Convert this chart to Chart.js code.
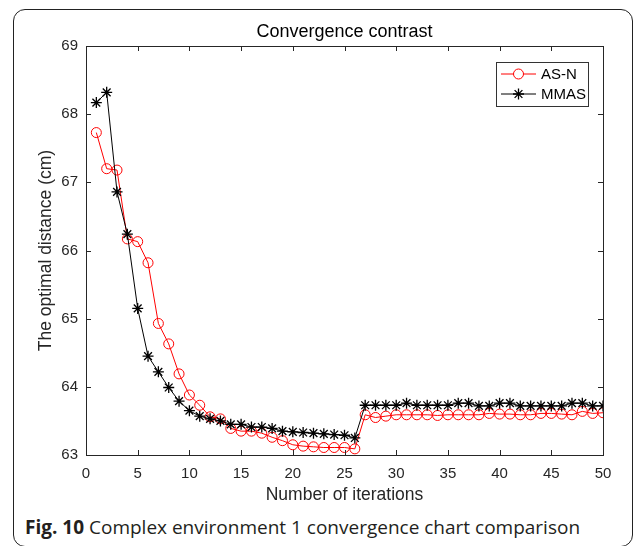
<!DOCTYPE html>
<html>
<head>
<meta charset="utf-8">
<script src="https://cdn.jsdelivr.net/npm/chart.js@4/dist/chart.umd.min.js"></script>
<style>
  html, body { margin: 0; padding: 0; background: #fff; }
  body { width: 634px; height: 546px; position: relative; overflow: hidden; }
  #frame {
    position: absolute; left: 13px; top: 9px; width: 618px; height: 536px;
    border: 1.5px solid #222; border-radius: 12px;
  }
  #chart { position: absolute; left: 0; top: 0; }
  #caption {
    position: absolute; left: 25px; top: 514px; white-space: nowrap;
    font-family: 'Open Sans', 'Noto Sans', sans-serif; font-size: 19px; color: #231f20;
  }
  #caption b { font-weight: 700; }
</style>
</head>
<body>
<div id="frame"></div>
<canvas id="chart" width="634" height="505"></canvas>
<div id="caption"><b>Fig. 10</b> Complex environment 1 convergence chart comparison</div>
<script>
  const iterations = [1, 2, 3, 4, 5, 6, 7, 8, 9, 10, 11, 12, 13, 14, 15, 16, 17, 18, 19, 20,
    21, 22, 23, 24, 25, 26, 27, 28, 29, 30, 31, 32, 33, 34, 35, 36, 37, 38, 39, 40,
    41, 42, 43, 44, 45, 46, 47, 48, 49, 50];

  const asN = [67.73, 67.20, 67.18, 66.17, 66.13, 65.82, 64.93, 64.63, 64.19, 63.88,
    63.73, 63.56, 63.53, 63.39, 63.35, 63.35, 63.32, 63.26, 63.21, 63.15,
    63.13, 63.12, 63.11, 63.11, 63.11, 63.09, 63.59, 63.55, 63.57, 63.59,
    63.59, 63.59, 63.59, 63.58, 63.59, 63.59, 63.59, 63.59, 63.61, 63.60,
    63.60, 63.59, 63.59, 63.61, 63.61, 63.60, 63.59, 63.64, 63.61, 63.62];

  const mmas = [68.17, 68.32, 66.86, 66.24, 65.15, 64.45, 64.22, 63.99, 63.79, 63.65,
    63.57, 63.53, 63.50, 63.45, 63.45, 63.41, 63.41, 63.39, 63.35, 63.34,
    63.33, 63.32, 63.31, 63.30, 63.29, 63.25, 63.73, 63.73, 63.73, 63.73,
    63.76, 63.73, 63.73, 63.73, 63.73, 63.76, 63.76, 63.72, 63.72, 63.76,
    63.76, 63.72, 63.72, 63.72, 63.72, 63.72, 63.76, 63.76, 63.72, 63.72];

  const chartTitle = 'Convergence contrast';
  const xTitle = 'Number of iterations';
  const yTitle = 'The optimal distance (cm)';

  const FONT = "'Liberation Sans', Arial, sans-serif";
  const AXIS = '#262626';

  const toPoints = vals => vals.map((v, i) => ({ x: iterations[i], y: v }));

  const asnStyle = { pointStyle: 'circle', radius: 5, borderWidth: 1, color: '#ff0000' };
  const mmasStyle = { pointStyle: 'star', radius: 5.5, borderWidth: 1.3, color: '#000000' };

  // matlab-like box, inward ticks, titles and legend
  const matlabDecor = {
    id: 'matlabDecor',
    afterDraw(chart) {
      const ctx = chart.ctx;
      const { left, right, top, bottom } = chart.chartArea;
      const xs = chart.scales.x, ys = chart.scales.y;
      ctx.save();
      ctx.strokeStyle = AXIS;
      ctx.lineWidth = 1;
      ctx.beginPath();
      xs.ticks.forEach(t => {
        const px = Math.round(xs.getPixelForValue(t.value)) + 0.5;
        ctx.moveTo(px, bottom); ctx.lineTo(px, bottom - 5);
        ctx.moveTo(px, top); ctx.lineTo(px, top + 5);
      });
      ys.ticks.forEach(t => {
        const py = Math.round(ys.getPixelForValue(t.value)) + 0.5;
        ctx.moveTo(left, py); ctx.lineTo(left + 5, py);
        ctx.moveTo(right, py); ctx.lineTo(right - 5, py);
      });
      ctx.stroke();
      ctx.strokeRect(Math.round(left) + 0.5, Math.round(top) + 0.5,
        Math.round(right - left), Math.round(bottom - top));

      // titles
      ctx.fillStyle = '#000';
      ctx.textAlign = 'center';
      ctx.textBaseline = 'middle';
      ctx.font = '18px ' + FONT;
      ctx.fillText(chartTitle, (left + right) / 2, 32);
      ctx.fillStyle = AXIS;
      ctx.font = '17.5px ' + FONT;
      ctx.fillText(xTitle, (left + right) / 2, 495);
      ctx.save();
      ctx.translate(46, (top + bottom) / 2);
      ctx.rotate(-Math.PI / 2);
      ctx.fillText(yTitle, 0, 0);
      ctx.restore();

      // legend
      const lx = 496.5, ly = 62.5, lw = 92, lh = 44;
      ctx.fillStyle = '#fff';
      ctx.fillRect(lx, ly, lw, lh);
      ctx.strokeStyle = '#333';
      ctx.strokeRect(lx, ly, lw, lh);
      const items = [
        { label: 'AS-N', style: asnStyle, y: 74 },
        { label: 'MMAS', style: mmasStyle, y: 94 }
      ];
      items.forEach(it => {
        ctx.strokeStyle = it.style.color;
        ctx.lineWidth = 1;
        ctx.beginPath();
        ctx.moveTo(501, it.y); ctx.lineTo(536, it.y);
        ctx.stroke();
        ctx.fillStyle = '#fff';
        ctx.lineWidth = it.style.borderWidth;
        Chart.helpers.drawPoint(ctx, {
          pointStyle: it.style.pointStyle, radius: it.style.radius,
          borderWidth: it.style.borderWidth, rotation: 0
        }, 518.5, it.y);
        ctx.fillStyle = '#000';
        ctx.textAlign = 'left';
        ctx.font = '15px ' + FONT;
        ctx.fillText(it.label, 541, it.y + 1);
      });
      ctx.restore();
    }
  };

  const ctx = document.getElementById('chart').getContext('2d');
  const chart = new Chart(ctx, {
    type: 'line',
    data: {
      datasets: [{
        label: 'AS-N',
        data: toPoints(asN),
        borderColor: asnStyle.color,
        borderWidth: 1,
        pointStyle: asnStyle.pointStyle,
        pointRadius: asnStyle.radius,
        pointBorderWidth: asnStyle.borderWidth,
        pointBorderColor: asnStyle.color,
        pointBackgroundColor: 'rgba(0,0,0,0)',
        order: 1
      }, {
        label: 'MMAS',
        data: toPoints(mmas),
        borderColor: mmasStyle.color,
        borderWidth: 1,
        pointStyle: mmasStyle.pointStyle,
        pointRadius: mmasStyle.radius,
        pointBorderWidth: mmasStyle.borderWidth,
        pointBorderColor: mmasStyle.color,
        pointBackgroundColor: mmasStyle.color,
        order: 0
      }]
    },
    options: {
      responsive: false,
      animation: false,
      devicePixelRatio: 1,
      layout: { padding: { left: 0, right: 31, top: 46, bottom: 0 } },
      scales: {
        x: {
          type: 'linear',
          min: 0,
          max: 50,
          grid: { display: false, drawTicks: false },
          border: { display: false },
          ticks: { stepSize: 5, padding: 10, maxRotation: 0, color: AXIS, font: { family: FONT, size: 15 } },
          afterFit: s => { s.height = 50; }
        },
        y: {
          min: 63,
          max: 69,
          grid: { display: false, drawTicks: false },
          border: { display: false },
          ticks: { stepSize: 1, padding: 8, color: AXIS, font: { family: FONT, size: 15 } },
          afterFit: s => { s.width = 86; }
        }
      },
      plugins: {
        legend: { display: false },
        tooltip: { enabled: false }
      }
    },
    plugins: [matlabDecor]
  });
</script>
</body>
</html>
